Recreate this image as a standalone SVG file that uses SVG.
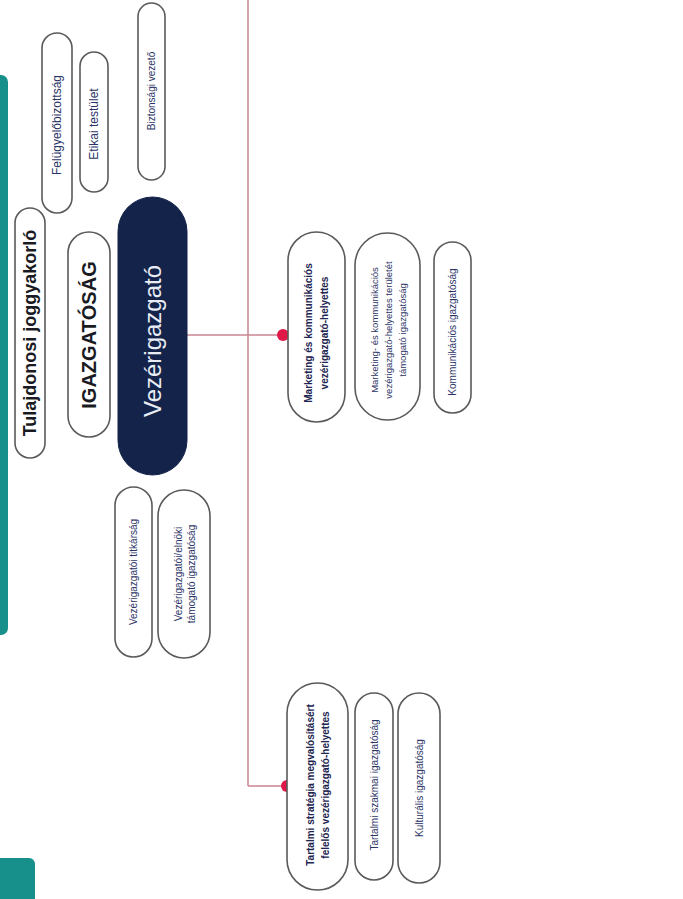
<svg xmlns="http://www.w3.org/2000/svg" width="683" height="899" viewBox="0 0 683 899">
<style>
.pill{fill:#ffffff;stroke:#5a5a5a;stroke-width:1.6}
.dark{fill:#14234a;stroke:#14234a}
.t{font-family:"Liberation Sans",Arial,sans-serif;text-anchor:middle;dominant-baseline:central}
.s{font-size:10px;fill:#2b3466}
.sb{font-size:10px;font-weight:bold;fill:#1d2550}
.m{font-size:12px;fill:#2b3466}
.big{font-size:18px;font-weight:bold;fill:#1a1a22}
.teal{fill:#17908b}
.conn{stroke:#c98592;stroke-width:1.5;fill:none}
.dot{fill:#e0184a}
</style>
<rect width="683" height="899" fill="#ffffff"/>
<rect class="teal" x="-10" y="75" width="18" height="560" rx="7"/>
<rect class="teal" x="-10" y="858" width="45" height="60" rx="6"/>

<g id="connectors">
<line class="conn" x1="248" y1="0" x2="248" y2="786"/>
<line class="conn" x1="187" y1="335" x2="283" y2="335"/>
<line class="conn" x1="248" y1="786" x2="287" y2="786"/>
<circle class="dot" cx="283" cy="335" r="6"/>
<circle class="dot" cx="287" cy="786" r="6"/>
</g>

<g id="felugyelobizottsag">
<rect class="pill" x="42" y="33" width="30" height="180" rx="15"/>
<text class="t m" transform="translate(57,125) rotate(-90)">Felügyelőbizottság</text>
</g>
<g id="etikai">
<rect class="pill" x="80" y="52" width="28" height="140" rx="14"/>
<text class="t m" transform="translate(94,124) rotate(-90)">Etikai testület</text>
</g>
<g id="biztonsagi">
<rect class="pill" x="138" y="3" width="27" height="177" rx="13.5"/>
<text class="t s" transform="translate(151.5,91) rotate(-90)">Biztonsági vezető</text>
</g>
<g id="tulajdonosi">
<rect class="pill" x="15" y="208" width="30" height="250" rx="15"/>
<text class="t big" transform="translate(30,333) rotate(-90)">Tulajdonosi joggyakorló</text>
</g>
<g id="igazgatosag">
<rect class="pill" x="68" y="232" width="42" height="205" rx="21"/>
<text class="t big" style="font-size:20px" transform="translate(89,335) rotate(-90)">IGAZGATÓSÁG</text>
</g>
<g id="vezerigazgato">
<rect class="dark" x="118" y="197" width="69" height="278" rx="34.5"/>
<text class="t" style="font-size:24px;fill:#e8ecf5" transform="translate(152.5,341) rotate(-90)">Vezérigazgató</text>
</g>
<g id="titkarsag">
<rect class="pill" x="115" y="487" width="37" height="170" rx="18.5"/>
<text class="t s" transform="translate(133.5,572) rotate(-90)">Vezérigazgatói titkárság</text>
</g>
<g id="tamogato">
<rect class="pill" x="158" y="490" width="52" height="168" rx="26"/>
<text class="t s" transform="translate(184,574) rotate(-90)"><tspan x="0" y="-6">Vezérigazgatói/elnöki</tspan><tspan x="0" y="7">támogató igazgatóság</tspan></text>
</g>
<g id="marketing-vh">
<rect class="pill" x="288" y="232" width="57" height="190" rx="28.5"/>
<text class="t sb" transform="translate(316.5,333) rotate(-90)"><tspan x="0" y="-9">Marketing és kommunikációs</tspan><tspan x="0" y="7">vezérigazgató-helyettes</tspan></text>
</g>
<g id="marketing-tamogato">
<rect class="pill" x="355" y="233" width="65" height="187" rx="32.5"/>
<text class="t s" style="font-size:9.5px" transform="translate(387.5,330) rotate(-90)"><tspan x="0" y="-14">Marketing- és kommunikációs</tspan><tspan x="0" y="0">vezérigazgató-helyettes területét</tspan><tspan x="0" y="14">támogató igazgatóság</tspan></text>
</g>
<g id="kommunikacios">
<rect class="pill" x="434" y="242" width="37" height="171" rx="18.5"/>
<text class="t s" transform="translate(452.5,332) rotate(-90)">Kommunikációs igazgatóság</text>
</g>
<g id="tartalmi-vh">
<rect class="pill" x="287" y="683" width="61" height="207" rx="30.5"/>
<text class="t sb" transform="translate(317.5,785) rotate(-90)"><tspan x="0" y="-8">Tartalmi stratégia megvalósításért</tspan><tspan x="0" y="7">felelős vezérigazgató-helyettes</tspan></text>
</g>
<g id="tartalmi-szakmai">
<rect class="pill" x="355" y="693" width="38" height="187" rx="19"/>
<text class="t s" transform="translate(374,785) rotate(-90)">Tartalmi szakmai igazgatóság</text>
</g>
<g id="kulturalis">
<rect class="pill" x="398" y="693" width="42" height="190" rx="21"/>
<text class="t s" transform="translate(419,788) rotate(-90)">Kulturális igazgatóság</text>
</g>
</svg>
